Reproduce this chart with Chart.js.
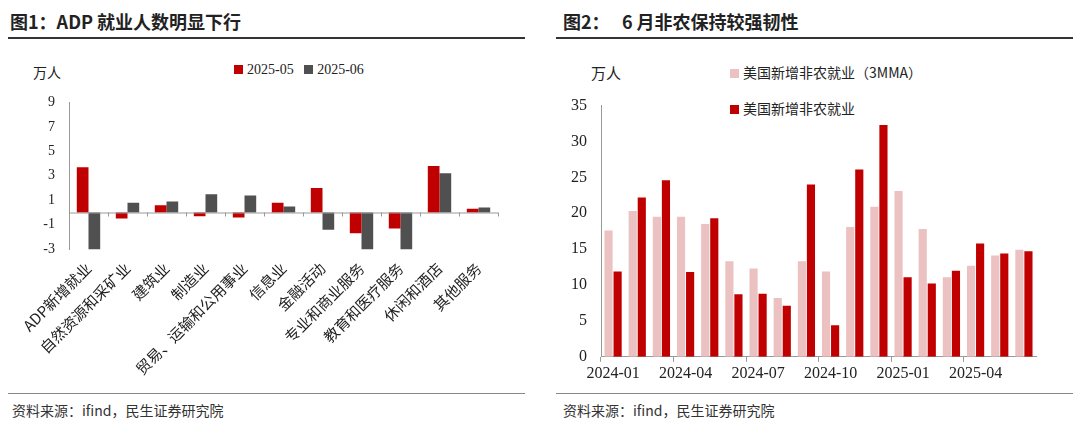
<!DOCTYPE html>
<html><head><meta charset="utf-8">
<script src="https://cdn.jsdelivr.net/npm/chart.js@4"></script>
<style>
body{margin:0;width:1080px;height:434px;background:#fff;position:relative;overflow:hidden;font-family:"Noto Sans CJK SC",sans-serif}
.t{position:absolute;font-weight:bold;font-size:18px;color:#222}
.hl{position:absolute;height:2px;background:#333}
.src{position:absolute;top:400px;font-size:14px;color:#333}
.lg{position:absolute;font-size:14px;color:#222;white-space:nowrap}
.lg span.b{display:inline-block;width:9px;height:9px;margin-right:4px;vertical-align:0}
.u{position:absolute;font-size:14px;color:#222}
canvas{position:absolute}
</style></head><body>
<div class="t" style="left:10px;top:8px">图1：ADP 就业人数明显下行</div>
<div class="hl" style="left:8px;top:37px;width:517px"></div>
<div class="t" style="left:563px;top:8px">图2：&nbsp;&nbsp; 6 月非农保持较强韧性</div>
<div class="hl" style="left:556px;top:37px;width:517px"></div>
<div class="hl" style="left:8px;top:393px;width:517px;height:1px;background:#888"></div>
<div class="hl" style="left:556px;top:393px;width:517px;height:1px;background:#888"></div>
<div class="src" style="left:12px">资料来源：ifind，民生证券研究院</div>
<div class="src" style="left:563px">资料来源：ifind，民生证券研究院</div>
<div class="u" style="left:33px;top:62px">万人</div>
<div class="lg" style="left:234px;top:62px;font-family:'Liberation Serif',serif"><span class="b" style="background:#C00000"></span>2025-05&nbsp;&nbsp;&nbsp;<span class="b" style="background:#505050"></span>2025-06</div>
<div class="u" style="left:591px;top:62px;font-size:15px">万人</div>
<div class="lg" style="left:730px;top:62px"><span class="b" style="background:#EBC1C1"></span>美国新增非农就业（3MMA）</div>
<div class="lg" style="left:730px;top:98px"><span class="b" style="background:#C00000"></span>美国新增非农就业</div>
<canvas id="c1" style="left:0;top:88px;width:540px;height:292px" width="540" height="292"></canvas>
<canvas id="c2" style="left:556px;top:90px;width:500px;height:295px" width="500" height="295"></canvas>
<script>
const adpCats=["ADP新增就业","自然资源和采矿业","建筑业","制造业","贸易、运输和公用事业","信息业","金融活动","专业和商业服务","教育和医疗服务","休闲和酒店","其他服务"];
const adpMay=[3.7,-0.5,0.6,-0.3,-0.4,0.8,2.0,-1.7,-1.3,3.8,0.3];
const adpJun=[-3.3,0.8,0.9,1.5,1.4,0.5,-1.4,-3.2,-3.3,3.2,0.4];
const months=["2024-01","2024-02","2024-03","2024-04","2024-05","2024-06","2024-07","2024-08","2024-09","2024-10","2024-11","2024-12","2025-01","2025-02","2025-03","2025-04","2025-05","2025-06"];
const nfp3mma=[17.6,20.3,19.5,19.5,18.5,13.3,12.3,8.2,13.3,11.9,18.1,20.9,23.1,17.8,11.1,12.7,14.1,14.9];
const nfp=[11.9,22.2,24.6,11.8,19.3,8.7,8.8,7.1,24.0,4.4,26.1,32.3,11.1,10.2,12.0,15.8,14.4,14.7];
const serif="'Liberation Serif',serif";
Chart.defaults.animation=false;
Chart.defaults.responsive=false;
const zeroTicks={id:'zt',afterDatasetsDraw(ch){const x=ch.scales.x,y=ch.scales.y,ctx=ch.ctx,y0=y.getPixelForValue(0);
ctx.save();ctx.strokeStyle='#999';ctx.lineWidth=1;ctx.beginPath();ctx.moveTo(x.left,y0+0.5);ctx.lineTo(x.right,y0+0.5);
for(let i=0;i<=adpCats.length;i++){const px=Math.round(x.left+(x.right-x.left)*i/adpCats.length)+0.5;ctx.moveTo(px,y0);ctx.lineTo(px,y0+4);}
ctx.stroke();ctx.restore();}};
new Chart(document.getElementById('c1'),{type:'bar',
data:{labels:adpCats,datasets:[{data:adpMay,backgroundColor:'#C00000',categoryPercentage:0.6,barPercentage:1},{data:adpJun,backgroundColor:'#505050',categoryPercentage:0.6,barPercentage:1}]},
options:{layout:{padding:{left:38,right:42,top:3,bottom:0}},plugins:{legend:{display:false},tooltip:{enabled:false}},
scales:{y:{min:-3,max:9,ticks:{stepSize:2,color:'#222',font:{family:serif,size:14},padding:6},grid:{display:false},border:{color:'#999'},
  afterFit(s){s.width=31}},
 x:{grid:{display:false},border:{display:false},ticks:{minRotation:45,maxRotation:45,color:'#222',font:{family:"'Noto Sans CJK SC'",size:15},padding:2}}}},
plugins:[zeroTicks]});
new Chart(document.getElementById('c2'),{type:'bar',
data:{labels:months,datasets:[{data:nfp3mma,backgroundColor:'#EBC1C1',categoryPercentage:0.75,barPercentage:0.9},{data:nfp,backgroundColor:'#C00000',categoryPercentage:0.75,barPercentage:0.9}]},
options:{layout:{padding:{left:0,right:20,top:8,bottom:0}},plugins:{legend:{display:false},tooltip:{enabled:false}},
scales:{y:{min:0,max:35,ticks:{stepSize:5,color:'#222',font:{family:serif,size:16},padding:6},grid:{display:false},border:{color:'#999'},afterFit(s){s.width=45}},
 x:{offset:true,grid:{offset:true,drawOnChartArea:false,tickLength:5,color:(c)=>c.index%3===0?'#999':'rgba(0,0,0,0)'},border:{color:'#999'},
  ticks:{autoSkip:false,maxRotation:0,color:'#222',font:{family:serif,size:16},padding:2,callback:(v,i)=>i%3===0?months[i]:''}}}}});
</script></body></html>
